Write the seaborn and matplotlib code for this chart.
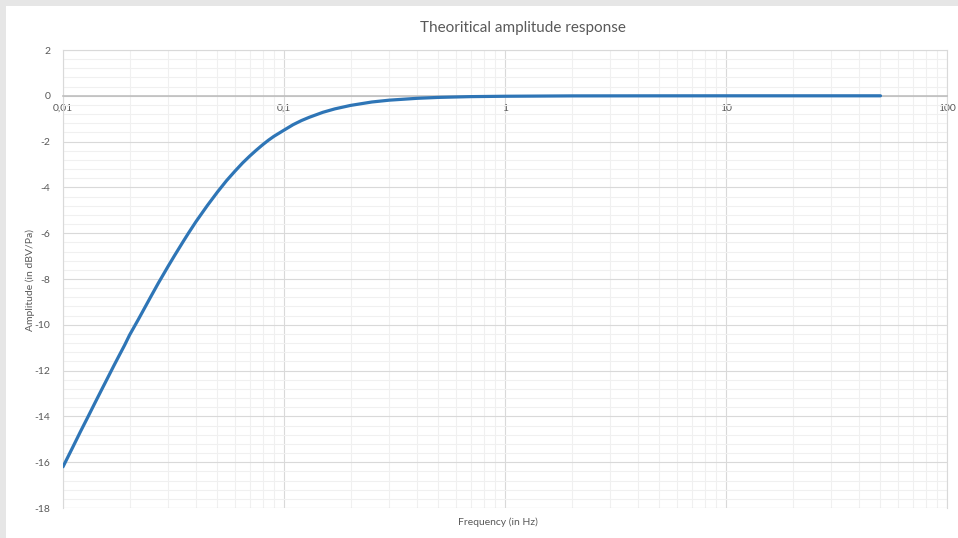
import numpy as np
import pandas as pd
import matplotlib
matplotlib.use("Agg")
import matplotlib.pyplot as plt
from matplotlib.ticker import FixedLocator, LogLocator, NullFormatter
from matplotlib.patches import Rectangle
import seaborn as sns

# values
freq_hz = [0.01, 0.011, 0.012, 0.013, 0.014, 0.015, 0.016, 0.017, 0.018, 0.019,
           0.02, 0.022, 0.025, 0.027, 0.03, 0.032, 0.035, 0.037, 0.04, 0.045,
           0.05, 0.055, 0.06, 0.065, 0.07, 0.075, 0.08, 0.085, 0.09, 0.1,
           0.11, 0.12, 0.13, 0.15, 0.17, 0.2, 0.25, 0.3, 0.4, 0.5,
           0.7, 1, 2, 5, 10, 20, 50]
amp_db = [-16.2, -15.4, -14.66, -14.0, -13.38, -12.81, -12.28, -11.78, -11.32, -10.89,
          -10.45, -9.74, -8.76, -8.18, -7.42, -6.97, -6.36, -5.99, -5.49, -4.79,
          -4.2, -3.7, -3.29, -2.93, -2.63, -2.37, -2.14, -1.94, -1.77, -1.5,
          -1.26, -1.08, -0.94, -0.72, -0.57, -0.42, -0.27, -0.19, -0.11, -0.07,
          -0.036, -0.02, -0.004, -0.001, 0.0, 0.0, 0.0]

x_ticks = [0.01, 0.1, 1, 10, 100]
x_labels = ["0,01", "0,1", "1", "10", "100"]
y_ticks = [2, 0, -2, -4, -6, -8, -10, -12, -14, -16, -18]

df = pd.DataFrame({"freq": freq_hz, "amp": amp_db})

sns.set_style("white")
plt.rcParams["font.family"] = ["Lato", "DejaVu Sans"]
plt.rcParams["axes.unicode_minus"] = False

W, H = 958, 538
fig = plt.figure(figsize=(W / 100, H / 100), dpi=100)
fig.patch.set_facecolor("#e6e6e6")
# white chart area (the reference is cropped from an Excel window)
fig.patches.append(Rectangle((6 / W, 0), 1, 1 - 6 / H, transform=fig.transFigure,
                             facecolor="white", edgecolor="none", zorder=-10))

ax = fig.add_axes([63 / W, 1 - 508 / H, (947 - 63) / W, (508 - 50) / H])
ax.set_facecolor("white")

sns.lineplot(data=df, x="freq", y="amp", ax=ax, color="#2e75b6", linewidth=2.3,
             zorder=5)
ax.lines[0].set_solid_joinstyle("round")

ax.set_xscale("log")
ax.set_xlim(0.01, 100)
ax.set_ylim(-18, 2)

ax.xaxis.set_major_locator(FixedLocator(x_ticks))
ax.set_xticklabels(x_labels)
ax.xaxis.set_minor_locator(LogLocator(base=10, subs=np.arange(2, 10)))
ax.xaxis.set_minor_formatter(NullFormatter())
ax.yaxis.set_major_locator(FixedLocator(y_ticks))
ax.set_yticklabels([str(v) for v in y_ticks])
ax.yaxis.set_minor_locator(FixedLocator(np.arange(-18, 2.01, 0.4)))

ax.grid(which="minor", color="#f0f0f0", linewidth=0.8)
ax.grid(which="major", color="#d9d9d9", linewidth=0.8)
ax.set_axisbelow(True)

for side in ["top", "right", "left"]:
    ax.spines[side].set_color("#d9d9d9")
    ax.spines[side].set_linewidth(0.8)
ax.spines["bottom"].set_position(("data", 0))
ax.spines["bottom"].set_color("#bfbfbf")
ax.spines["bottom"].set_linewidth(1.2)
# bottom edge of the plot area
ax.axhline(-18, color="#d9d9d9", linewidth=0.8, zorder=1)

ax.tick_params(axis="both", which="both", length=0, labelsize=7.5, labelcolor="#595959")
ax.tick_params(axis="x", pad=6)
ax.tick_params(axis="y", pad=9)

ax.set_xlabel("")
ax.set_ylabel("")
fig.text(523 / W, 1 - 28 / H, "Theoritical amplitude response", ha="center",
         va="center", fontsize=11, color="#595959")
fig.text(498 / W, 1 - 522 / H, "Frequency (in Hz)", ha="center", va="center",
         fontsize=7.5, color="#595959")
fig.text(30 / W, 1 - 280 / H, "Amplitude (in dBV/Pa)", ha="center", va="center",
         rotation=90, fontsize=7.5, color="#595959")

fig.savefig("out.png", dpi=100, facecolor=fig.get_facecolor())
